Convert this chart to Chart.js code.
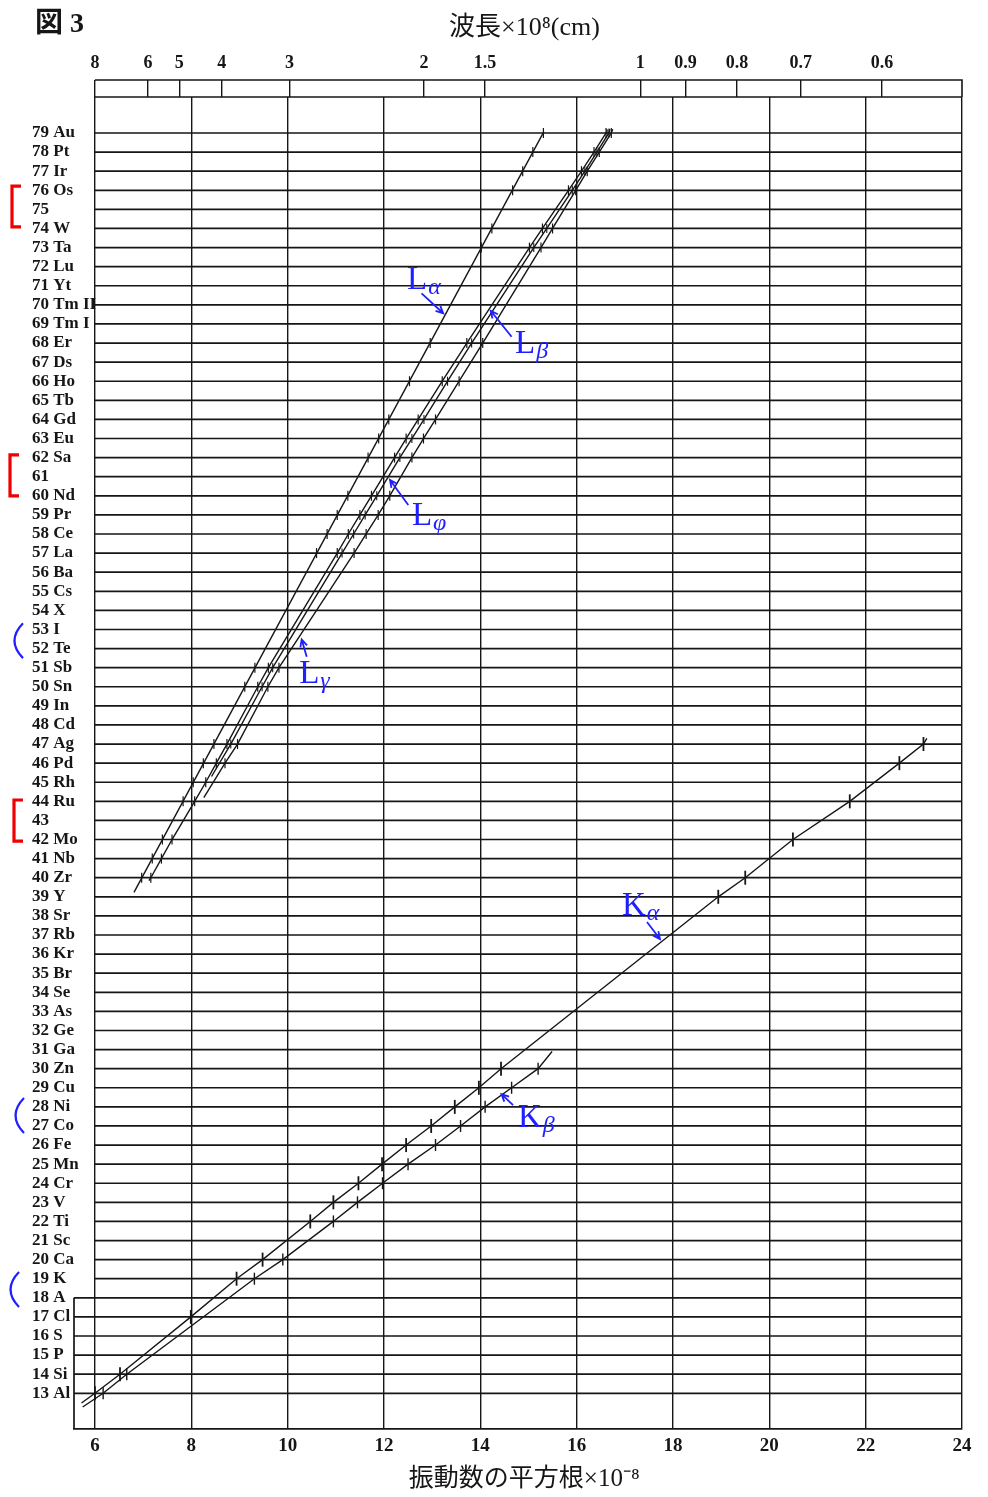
<!DOCTYPE html>
<html>
<head>
<meta charset="utf-8">
<script src="https://cdn.jsdelivr.net/npm/chart.js@4.4.1/dist/chart.umd.min.js"></script>
<style>
  html, body { margin: 0; padding: 0; background: #fff; }
  #wrap { width: 988px; height: 1497px; }
</style>
</head>
<body>
<div id="wrap"><canvas id="moseley"></canvas></div>
<script>
// Left axis: atomic numbers and element symbols as printed
const atomicNumbers = [13, 14, 15, 16, 17, 18, 19, 20, 21, 22, 23, 24, 25, 26, 27, 28, 29, 30, 31, 32, 33, 34, 35, 36, 37, 38, 39, 40,
  41, 42, 43, 44, 45, 46, 47, 48, 49, 50, 51, 52, 53, 54, 55, 56, 57, 58, 59, 60, 61, 62, 63, 64, 65, 66, 67, 68, 69, 70,
  71, 72, 73, 74, 75, 76, 77, 78, 79];
const symbols = ['Al', 'Si', 'P', 'S', 'Cl', 'A', 'K', 'Ca', 'Sc', 'Ti', 'V', 'Cr', 'Mn', 'Fe', 'Co', 'Ni', 'Cu', 'Zn', 'Ga', 'Ge',
  'As', 'Se', 'Br', 'Kr', 'Rb', 'Sr', 'Y', 'Zr', 'Nb', 'Mo', '', 'Ru', 'Rh', 'Pd', 'Ag', 'Cd', 'In', 'Sn', 'Sb', 'Te', 'I', 'X',
  'Cs', 'Ba', 'La', 'Ce', 'Pr', 'Nd', '', 'Sa', 'Eu', 'Gd', 'Tb', 'Ho', 'Ds', 'Er', 'Tm I', 'Tm II', 'Yt', 'Lu', 'Ta', 'W', '',
  'Os', 'Ir', 'Pt', 'Au'];

// Bottom axis: square root of frequency x 10^-8
const freqTicks = [6, 8, 10, 12, 14, 16, 18, 20, 22, 24];

// Top axis: wavelength x 10^8 cm, placed where the printed scale puts them
const waveLabels = ['8', '6', '5', '4', '3', '2', '1.5', '1', '0.9', '0.8', '0.7', '0.6'];
const wavePos = [6.0, 7.10, 7.75, 8.63, 10.04, 12.83, 14.10, 17.32, 18.26, 19.33, 20.65, 22.34];

// K series: measured ticks, plus where each drawn line begins and ends
const kAlphaZ = [13, 14, 17, 19, 20, 22, 23, 24, 25, 26, 27, 28, 29, 30, 39, 40, 42, 44, 46, 47];
const kAlphaX = [6.00, 6.52, 7.99, 8.94, 9.48, 10.47, 10.95, 11.47, 11.96, 12.46, 12.98, 13.47, 13.97, 14.43, 18.94, 19.50, 20.49, 21.67, 22.70, 23.20];
const kAlphaEnds = [[5.72, 12.49], [23.27, 47.30]];

const kBetaZ = [13, 14, 19, 20, 22, 23, 24, 25, 26, 27, 28, 29, 30];
const kBetaX = [6.17, 6.66, 9.31, 9.90, 10.95, 11.45, 11.97, 12.50, 13.07, 13.59, 14.10, 14.65, 15.20];
const kBetaEnds = [[5.745, 12.28], [15.49, 30.90]];

// L series
const lAlphaZ = [40, 41, 42, 44, 45, 46, 47, 50, 51, 57, 58, 59, 60, 62, 63, 64, 66, 68, 73, 74, 76, 77, 78, 79];
const lAlphaX = [6.97, 7.19, 7.40, 7.83, 8.04, 8.25, 8.47, 9.11, 9.32, 10.60, 10.82, 11.03, 11.25, 11.67, 11.89, 12.10, 12.53, 12.96, 14.02, 14.24, 14.67, 14.88, 15.09, 15.31];
const lAlphaEnds = [[6.81, 39.23], [15.32, 79.07]];

const lBetaZ = [40, 41, 42, 44, 45, 46, 47, 50, 51, 57, 58, 59, 60, 62, 63, 64, 66, 68, 73, 74, 76, 77, 78, 79];
const lBetaX = [7.16, 7.38, 7.60, 8.07, 8.30, 8.52, 8.74, 9.38, 9.60, 11.03, 11.26, 11.50, 11.74, 12.22, 12.46, 12.71, 13.21, 13.72, 15.02, 15.29, 15.83, 16.10, 16.36, 16.61];
const lBetaEnds = [[7.12, 39.85], [16.63, 79.2]];

const lPhiZ = [47, 50, 51, 57, 58, 59, 60, 62, 63, 64, 66, 68, 73, 74, 76, 77, 78, 79];
const lPhiX = [8.82, 9.47, 9.69, 11.13, 11.37, 11.61, 11.85, 12.33, 12.58, 12.83, 13.32, 13.82, 15.11, 15.38, 15.91, 16.17, 16.42, 16.67];
const lPhiEnds = [[8.42, 45.3], [16.69, 79.2]];

const lGammaZ = [46, 47, 50, 51, 57, 58, 59, 60, 62, 63, 64, 66, 68, 73, 74, 76, 77, 78, 79];
const lGammaX = [8.70, 8.96, 9.59, 9.82, 11.38, 11.63, 11.88, 12.12, 12.58, 12.82, 13.07, 13.56, 14.05, 15.26, 15.50, 15.98, 16.22, 16.47, 16.72];
const lGammaEnds = [[8.26, 44.2], [16.75, 79.2]];

const INK = '#161616';
const BLUE = '#1f1fff';
const RED = '#f00000';
const SERIF = '"Liberation Serif", "DejaVu Serif", serif';
const JP = '"Liberation Serif", "Noto Sans CJK JP", serif';

const pts = (xs, zs) => xs.map((x, i) => ({ x: x, y: zs[i] }));
const pt = (p) => ({ x: p[0], y: p[1] });

function lineSet(data) {
  return { data: data, showLine: true, borderColor: INK, borderWidth: 1.4, pointRadius: 0, fill: false, tension: 0 };
}
function tickSet(data, r, w) {
  return { data: data, showLine: false, pointStyle: 'line', rotation: 90, pointRadius: r,
    borderColor: INK, borderWidth: w, pointHoverRadius: r };
}
// a drawn line: from its start, through the measured points, to its end
const through = (ends, data) => [pt(ends[0]), ...data, pt(ends[1])];

const kAlphaPts = pts(kAlphaX, kAlphaZ);
const kBetaPts = pts(kBetaX, kBetaZ);
const lAlphaPts = pts(lAlphaX, lAlphaZ);
const lBetaPts = pts(lBetaX, lBetaZ);
const lPhiPts = pts(lPhiX, lPhiZ);
const lGammaPts = pts(lGammaX, lGammaZ);

const datasets = [
  lineSet(through(kAlphaEnds, kAlphaPts)), tickSet(kAlphaPts, 7, 1.8),
  lineSet(through(kBetaEnds, kBetaPts)), tickSet(kBetaPts, 6, 1.4),
  lineSet(lAlphaEnds.map(pt)), tickSet(lAlphaPts, 5, 1.2),
  lineSet(through(lBetaEnds, lBetaPts)), tickSet(lBetaPts, 5, 1.2),
  lineSet(through(lPhiEnds, lPhiPts)), tickSet(lPhiPts, 4.5, 1.1),
  lineSet(through(lGammaEnds, lGammaPts)), tickSet(lGammaPts, 5, 1.2)
];

// Blue line names with arrows, in data units: L anchor (baseline-left), arrow tail -> tip
const notes = [
  { main: 'L', sub: 'α', x: 12.48, y: 70.83, from: [12.78, 70.60], to: [13.23, 69.56] },
  { main: 'L', sub: 'β', x: 14.72, y: 67.48, from: [14.65, 68.33], to: [14.215, 69.69] },
  { main: 'L', sub: 'φ', x: 12.58, y: 58.47, from: [12.505, 59.52], to: [12.125, 60.83] },
  { main: 'L', sub: 'γ', x: 10.24, y: 50.20, from: [10.396, 51.57], to: [10.292, 52.48] },
  { main: 'K', sub: 'α', x: 16.94, y: 38.05, from: [17.46, 37.68], to: [17.73, 36.79] },
  { main: 'K', sub: 'β', x: 14.78, y: 26.94, from: [14.68, 28.09], to: [14.44, 28.67] }
];
// Hand marks in the left margin: red brackets and blue parentheses (atomic-number spans)
const redBrackets = [[76.22, 74.08, 12], [62.14, 60.0, 10], [44.07, 41.92, 14]];
const blueParens = [[53.33, 51.50, 23], [28.46, 26.63, 24], [19.35, 17.52, 19]];

const framePlugin = {
  id: 'frame',
  beforeDatasetsDraw(chart) {
    const { ctx, chartArea: a, scales: { x, y } } = chart;
    const x6 = x.getPixelForValue(6);
    const y18 = y.getPixelForValue(18);
    ctx.save();
    ctx.strokeStyle = INK;
    // one rule per element; above argon the grid starts at 6, the bottom box reaches further left
    ctx.lineWidth = 1.7;
    ctx.beginPath();
    atomicNumbers.forEach(z => {
      const py = y.getPixelForValue(z);
      ctx.moveTo(z <= 18 ? a.left : x6, py);
      ctx.lineTo(a.right, py);
    });
    ctx.moveTo(a.left, y18);
    ctx.lineTo(a.left, a.bottom);
    ctx.stroke();
    // wavelength band outline
    ctx.lineWidth = 1.6;
    ctx.beginPath();
    ctx.moveTo(x6, a.top - 17);
    ctx.lineTo(a.right, a.top - 17);
    ctx.lineTo(a.right, a.top);
    ctx.moveTo(x6, a.top);
    ctx.lineTo(a.right, a.top);
    ctx.stroke();
    ctx.restore();
  },
  afterDatasetsDraw(chart) {
    const { ctx, scales: { x, y } } = chart;
    ctx.save();
    ctx.fillStyle = BLUE;
    ctx.strokeStyle = BLUE;
    ctx.textBaseline = 'alphabetic';
    notes.forEach(n => {
      const px = x.getPixelForValue(n.x), py = y.getPixelForValue(n.y);
      ctx.font = '33px ' + SERIF;
      ctx.fillText(n.main, px, py);
      const w = ctx.measureText(n.main).width;
      ctx.font = 'italic 24px ' + SERIF;
      ctx.fillText(n.sub, px + w + 1, py + 5);
      const x1 = x.getPixelForValue(n.from[0]), y1 = y.getPixelForValue(n.from[1]);
      const x2 = x.getPixelForValue(n.to[0]), y2 = y.getPixelForValue(n.to[1]);
      const ang = Math.atan2(y2 - y1, x2 - x1);
      ctx.lineWidth = 1.8;
      ctx.beginPath();
      ctx.moveTo(x1, y1);
      ctx.lineTo(x2, y2);
      ctx.moveTo(x2 - 8 * Math.cos(ang - 0.45), y2 - 8 * Math.sin(ang - 0.45));
      ctx.lineTo(x2, y2);
      ctx.lineTo(x2 - 8 * Math.cos(ang + 0.45), y2 - 8 * Math.sin(ang + 0.45));
      ctx.stroke();
    });
    ctx.strokeStyle = RED;
    ctx.lineWidth = 3.2;
    redBrackets.forEach(b => {
      const t = y.getPixelForValue(b[0]), bt = y.getPixelForValue(b[1]);
      ctx.beginPath();
      ctx.moveTo(b[2] + 9, t);
      ctx.lineTo(b[2], t);
      ctx.lineTo(b[2], bt);
      ctx.lineTo(b[2] + 9, bt);
      ctx.stroke();
    });
    ctx.strokeStyle = BLUE;
    ctx.lineWidth = 2.2;
    blueParens.forEach(p => {
      const t = y.getPixelForValue(p[0]), bt = y.getPixelForValue(p[1]);
      ctx.beginPath();
      ctx.moveTo(p[2], t);
      ctx.quadraticCurveTo(p[2] - 17, (t + bt) / 2, p[2], bt);
      ctx.stroke();
    });
    ctx.fillStyle = INK;
    ctx.font = 'bold 28px ' + JP;
    ctx.fillText('図 3', 35, 32);
    ctx.restore();
  }
};

const fontTick = (s) => ({ family: SERIF, size: s, weight: 'bold' });

new Chart(document.getElementById('moseley'), {
  type: 'scatter',
  data: { datasets: datasets },
  options: {
    responsive: true,
    maintainAspectRatio: false,
    animation: false,
    events: [],
    layout: { padding: { left: 31, right: 26, top: 0, bottom: 0 } },
    plugins: { legend: { display: false }, tooltip: { enabled: false } },
    scales: {
      x: {
        type: 'linear', position: 'bottom', min: 5.565, max: 24,
        afterBuildTicks: (s) => { s.ticks = freqTicks.map(v => ({ value: v })); },
        afterFit: (s) => { s.height = 68; },
        grid: { color: INK, lineWidth: 1.4, drawTicks: false },
        border: { display: true, color: INK, width: 1.8 },
        ticks: { font: fontTick(19), color: INK, padding: 6, autoSkip: false, maxRotation: 0 },
        title: { display: true, text: '\u2002振動数の平方根×10⁻⁸', font: { family: JP, size: 25 }, color: INK, padding: { top: 0, bottom: 3 } }
      },
      x2: {
        type: 'linear', position: 'top', min: 5.565, max: 24,
        afterBuildTicks: (s) => { s.ticks = wavePos.map(v => ({ value: v })); },
        afterFit: (s) => { s.height = 97; },
        grid: { drawOnChartArea: false, drawTicks: true, tickLength: 17, color: INK, lineWidth: 1.4 },
        border: { display: false },
        ticks: {
          font: fontTick(18), color: INK, padding: 6, autoSkip: false, maxRotation: 0,
          callback: (v) => { const i = wavePos.indexOf(v); return i >= 0 ? waveLabels[i] : ''; }
        },
        title: { display: true, text: '\u2002波長×10⁸(cm)', font: { family: JP, size: 26 }, color: INK, padding: { top: 13, bottom: 0 } }
      },
      y: {
        type: 'linear', min: 11.13, max: 80.885,
        afterBuildTicks: (s) => { s.ticks = atomicNumbers.map(v => ({ value: v })); },
        afterFit: (s) => { s.width = 43; },
        grid: { display: false },
        border: { display: false },
        // mirrored so the longer names (70 Tm II) may run past the frame, as printed
        ticks: {
          font: fontTick(17), color: INK, mirror: true, crossAlign: 'near', padding: -42, autoSkip: false,
          callback: (v) => { const i = atomicNumbers.indexOf(v); return i >= 0 ? (v + ' ' + symbols[i]).trim() : ''; }
        }
      }
    }
  },
  plugins: [framePlugin]
});
</script>
</body>
</html>
